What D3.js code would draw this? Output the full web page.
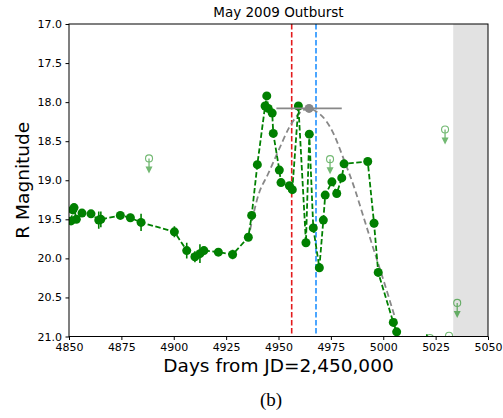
<!DOCTYPE html>
<html>
<head>
<meta charset="utf-8">
<script src="https://cdn.jsdelivr.net/npm/d3@7"></script>
<style>
  body { margin: 0; background: #fff; }
  svg { display: block; font-family: "DejaVu Sans", sans-serif; }
</style>
</head>
<body>
<svg id="chart" width="503" height="418"></svg>
<script>
// R-band photometry, days from JD 2,450,000
const days = [4851.0, 4851.8, 4852.4, 4853.5, 4856.2, 4860.5, 4864.2, 4865.2, 4874.5, 4879.3,
              4884.4, 4900.3, 4906.2, 4910.1, 4912.5, 4914.4, 4921.3, 4928.1, 4935.6, 4937.2,
              4939.9, 4943.6, 4944.4, 4945.1, 4947.0, 4947.5, 4950.4, 4951.2, 4955.2, 4956.6,
              4959.5, 4963.1, 4964.7, 4966.6, 4969.5, 4971.4, 4972.3, 4975.5, 4977.8, 4980.2,
              4981.3, 4992.6, 4995.6, 4997.6, 5004.8, 5006.4, 5020.8];
const mags = [19.52, 19.38, 19.35, 19.50, 19.42, 19.43, 19.51, 19.50, 19.45, 19.48,
              19.54, 19.66, 19.90, 19.98, 19.94, 19.90, 19.92, 19.95, 19.73, 19.45,
              18.80, 18.05, 17.92, 18.08, 18.14, 18.40, 18.87, 19.03, 19.07, 19.12,
              18.05, 19.80, 18.41, 19.61, 20.12, 19.51, 19.19, 19.02, 19.17, 18.97,
              18.79, 18.76, 19.55, 20.18, 20.82, 20.94, 21.30];
const magErr = [0.03, 0.03, 0.03, 0.03, 0.03, 0.03, 0.11, 0.10, 0.03, 0.05,
                0.11, 0.07, 0.10, 0.07, 0.12, 0.05, 0.03, 0.06, 0.03, 0.05,
                0.03, 0.03, 0.03, 0.03, 0.03, 0.03, 0.03, 0.03, 0.03, 0.03,
                0.03, 0.03, 0.03, 0.03, 0.03, 0.03, 0.03, 0.03, 0.03, 0.03,
                0.03, 0.03, 0.05, 0.05, 0.05, 0.05, 0.33];

// non-detections (upper limits)
const limDays = [4888.2, 4974.6, 5029.5, 5035.3, 5022.3, 5031.4];
const limMags = [18.72, 18.73, 18.35, 20.57, 21.02, 20.99];

// fitted outburst profile
const fitDays = [4935.5, 4940.4, 4945.0, 4950.0, 4955.0, 4959.0, 4964.5, 4968.0, 4973.0,
                 4976.2, 4981.0, 4986.5, 4990.0, 4995.0, 5000.0, 5007.0];
const fitMags = [19.76, 19.19, 18.92, 18.62, 18.33, 18.17, 18.08, 18.12, 18.25,
                 18.40, 18.72, 19.12, 19.42, 19.85, 20.27, 20.88];

// fit peak and its time uncertainty
const peakDays = [4964.6];
const peakMags = [18.08];
const peakSpan = [15.6];

// reference epochs (red, blue) and unobservable window
const epochs = [4956.3, 4967.9];
const gapDays = [5033.4, 5050];

const xTicks = [4850, 4875, 4900, 4925, 4950, 4975, 5000, 5025, 5050];
const yTicks = [17.0, 17.5, 18.0, 18.5, 19.0, 19.5, 20.0, 20.5, 21.0];

const W = 503, H = 418;
const m = { left: 69, right: 15, top: 24, bottom: 81.5 };

const svg = d3.select('#chart');
const x = d3.scaleLinear().domain([4850, 5050]).range([m.left, W - m.right]);
const y = d3.scaleLinear().domain([17, 21]).range([m.top, H - m.bottom]);

svg.append('defs').append('clipPath').attr('id', 'plot')
  .append('rect')
    .attr('x', m.left).attr('y', m.top)
    .attr('width', W - m.left - m.right).attr('height', H - m.top - m.bottom);

const g = svg.append('g').attr('clip-path', 'url(#plot)');

// shaded gap
g.append('rect')
  .attr('x', x(gapDays[0])).attr('y', m.top)
  .attr('width', x(gapDays[1]) - x(gapDays[0]))
  .attr('height', H - m.top - m.bottom)
  .attr('fill', '#e2e2e2');

// epoch markers
const epochColors = ['#e31a1c', '#1e90ff'];
g.selectAll('line.epoch').data(epochs).join('line')
  .attr('class', 'epoch')
  .attr('x1', d => x(d)).attr('x2', d => x(d))
  .attr('y1', m.top).attr('y2', H - m.bottom)
  .attr('stroke', (d, i) => epochColors[i])
  .attr('stroke-width', 1.6)
  .attr('stroke-dasharray', '5.5,2.5');

// fit curve
const fit = fitDays.map((d, i) => [d, fitMags[i]]);
g.append('path')
  .datum(fit)
  .attr('d', d3.line().x(d => x(d[0])).y(d => y(d[1])).curve(d3.curveMonotoneX))
  .attr('fill', 'none')
  .attr('stroke', '#888')
  .attr('stroke-width', 1.8)
  .attr('stroke-dasharray', '6,3.5');

// light curve
const pts = days.map((d, i) => ({ t: d, m: mags[i], e: magErr[i] }));
const green = '#008000';

g.append('path')
  .datum(pts)
  .attr('d', d3.line().x(d => x(d.t)).y(d => y(d.m)))
  .attr('fill', 'none')
  .attr('stroke', green)
  .attr('stroke-width', 1.8)
  .attr('stroke-dasharray', '5.5,2.5');

g.selectAll('line.err').data(pts).join('line')
  .attr('class', 'err')
  .attr('x1', d => x(d.t)).attr('x2', d => x(d.t))
  .attr('y1', d => y(d.m - d.e)).attr('y2', d => y(d.m + d.e))
  .attr('stroke', green)
  .attr('stroke-width', 1.6);

g.selectAll('circle.pt').data(pts).join('circle')
  .attr('class', 'pt')
  .attr('cx', d => x(d.t)).attr('cy', d => y(d.m))
  .attr('r', 4.5)
  .attr('fill', green);

// upper limits: open circle with downward arrow
const lims = limDays.map((d, i) => ({ t: d, m: limMags[i] }));
const lg = g.selectAll('g.lim').data(lims).join('g')
  .attr('class', 'lim')
  .attr('transform', d => `translate(${x(d.t)},${y(d.m)})`)
  .attr('opacity', 0.55);
lg.append('line')
  .attr('x1', 0).attr('x2', 0).attr('y1', 0).attr('y2', 9)
  .attr('stroke', green).attr('stroke-width', 1.3);
lg.append('path')
  .attr('d', 'M-3.5,8 L3.5,8 L0,15 Z')
  .attr('fill', green);
lg.append('circle')
  .attr('r', 3.5)
  .attr('fill', 'none')
  .attr('stroke', green)
  .attr('stroke-width', 1.1);

// fit peak
const peak = peakDays.map((d, i) => ({ t: d, m: peakMags[i], s: peakSpan[i] }));
g.selectAll('line.peak').data(peak).join('line')
  .attr('class', 'peak')
  .attr('x1', d => x(d.t - d.s)).attr('x2', d => x(d.t + d.s))
  .attr('y1', d => y(d.m)).attr('y2', d => y(d.m))
  .attr('stroke', '#888').attr('stroke-width', 1.8);
g.selectAll('circle.peak').data(peak).join('circle')
  .attr('class', 'peak')
  .attr('cx', d => x(d.t)).attr('cy', d => y(d.m))
  .attr('r', 4.5).attr('fill', '#888');

// frame and axes
svg.append('rect')
  .attr('x', m.left).attr('y', m.top)
  .attr('width', W - m.left - m.right).attr('height', H - m.top - m.bottom)
  .attr('fill', 'none').attr('stroke', '#000').attr('stroke-width', 1);

const xAxis = svg.append('g')
  .attr('transform', `translate(0,${H - m.bottom})`)
  .call(d3.axisBottom(x).tickValues(xTicks).tickFormat(d3.format('d')).tickSizeInner(3.5).tickSizeOuter(0).tickPadding(3.5));
const yAxis = svg.append('g')
  .attr('transform', `translate(${m.left},0)`)
  .call(d3.axisLeft(y).tickValues(yTicks).tickFormat(d3.format('.1f')).tickSizeInner(3.5).tickSizeOuter(0).tickPadding(3.5));
[xAxis, yAxis].forEach(a => {
  a.select('.domain').remove();
  a.selectAll('text').attr('font-size', 11).attr('font-family', '"DejaVu Sans", sans-serif').attr('fill', '#000');
  a.selectAll('line').attr('stroke', '#000');
});

svg.append('text')
  .attr('x', (m.left + W - m.right) / 2).attr('y', 17)
  .attr('text-anchor', 'middle').attr('font-size', 13.5)
  .text('May 2009 Outburst');

svg.append('text')
  .attr('x', (m.left + W - m.right) / 2).attr('y', 372)
  .attr('text-anchor', 'middle').attr('font-size', 18.5)
  .text('Days from JD=2,450,000');

svg.append('text')
  .attr('transform', `translate(29,${(m.top + H - m.bottom) / 2}) rotate(-90)`)
  .attr('text-anchor', 'middle').attr('font-size', 18.5)
  .text('R Magnitude');

svg.append('text')
  .attr('x', 271).attr('y', 406)
  .attr('text-anchor', 'middle').attr('font-size', 19)
  .attr('font-family', '"Liberation Serif", "DejaVu Serif", serif')
  .text('(b)');
</script>
</body>
</html>
